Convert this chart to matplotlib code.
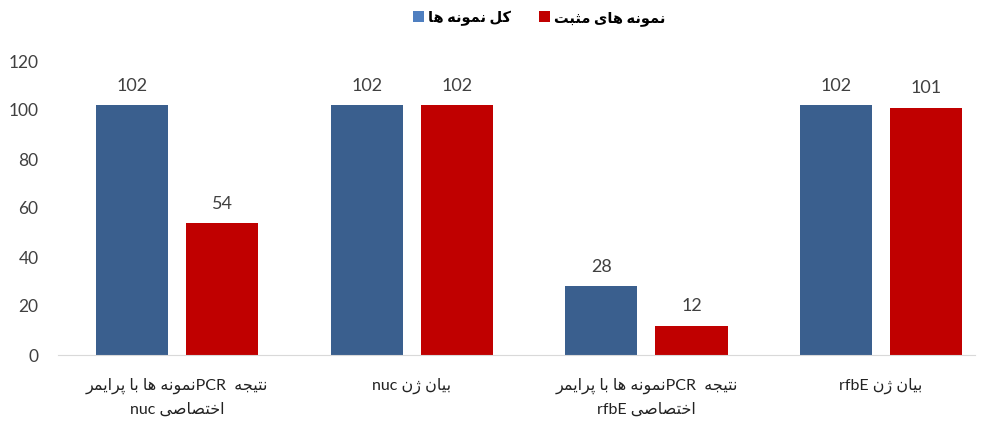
import matplotlib
matplotlib.use("Agg")
import matplotlib.pyplot as plt
from matplotlib.patches import Patch
import numpy as np

# ---------------- data ----------------
series_names = ["کل نمونه ها", "نمونه های مثبت"]
total_samples = [102, 102, 28, 102]
positive_samples = [54, 102, 12, 101]
y_ticks = [0, 20, 40, 60, 80, 100, 120]

# ------------- minimal Arabic/Persian shaping -------------
FORMS = {
    'ا': (0xFE8D, 0xFE8E, None, None),
    'ب': (0xFE8F, 0xFE90, 0xFE91, 0xFE92),
    'پ': (0xFB56, 0xFB57, 0xFB58, 0xFB59),
    'ت': (0xFE95, 0xFE96, 0xFE97, 0xFE98),
    'ث': (0xFE99, 0xFE9A, 0xFE9B, 0xFE9C),
    'ج': (0xFE9D, 0xFE9E, 0xFE9F, 0xFEA0),
    'خ': (0xFEA5, 0xFEA6, 0xFEA7, 0xFEA8),
    'ر': (0xFEAD, 0xFEAE, None, None),
    'ز': (0xFEAF, 0xFEB0, None, None),
    'ژ': (0xFB8A, 0xFB8B, None, None),
    'ص': (0xFEB9, 0xFEBA, 0xFEBB, 0xFEBC),
    'ک': (0xFB8E, 0xFB8F, 0xFB90, 0xFB91),
    'ل': (0xFEDD, 0xFEDE, 0xFEDF, 0xFEE0),
    'م': (0xFEE1, 0xFEE2, 0xFEE3, 0xFEE4),
    'ن': (0xFEE5, 0xFEE6, 0xFEE7, 0xFEE8),
    'ه': (0xFEE9, 0xFEEA, 0xFEEB, 0xFEEC),
    'و': (0xFEED, 0xFEEE, None, None),
    'ی': (0xFBFC, 0xFBFD, 0xFBFE, 0xFBFF),
}


def shape(word_text):
    out = []
    n = len(word_text)
    for i, ch in enumerate(word_text):
        f = FORMS.get(ch)
        if f is None:
            out.append(ch)
            continue
        prev = word_text[i - 1] if i > 0 else None
        nxt = word_text[i + 1] if i < n - 1 else None
        jp = prev in FORMS and FORMS[prev][2] is not None
        jn = nxt in FORMS and f[2] is not None
        if jp and jn:
            cp = f[3]
        elif jp:
            cp = f[1]
        elif jn:
            cp = f[2]
        else:
            cp = f[0]
        out.append(chr(cp))
    return "".join(out)


def rtl(text):
    return shape(text)[::-1]


categories = [
    rtl("نمونه ها با پرایمر") + "PCR  " + rtl("نتیجه") + "\n" + "nuc " + rtl("اختصاصی"),
    "nuc " + rtl("بیان ژن"),
    rtl("نمونه ها با پرایمر") + "PCR  " + rtl("نتیجه") + "\n" + "rfbE " + rtl("اختصاصی"),
    "rfbE " + rtl("بیان ژن"),
]

# ---------------- plot ----------------
BLUE = "#3A5F8E"
RED = "#C00000"
TXT = "#404040"
FAM = ["Lato", "DejaVu Sans"]

fig = plt.figure(figsize=(9.83, 4.24), dpi=100)
ax = fig.add_axes([58 / 983, 69 / 424, (975 - 58) / 983, (363 - 69) / 424])

x = np.arange(len(categories))
off = 0.192
w = 0.307
b1 = ax.bar(x - off, total_samples, w, color=BLUE)
b2 = ax.bar(x + off, positive_samples, w, color=RED)

for bars in (b1, b2):
    for r in bars:
        ax.annotate(f"{int(r.get_height())}", (r.get_x() + r.get_width() / 2, r.get_height()),
                    xytext=(0, 8), textcoords="offset points", ha="center", va="bottom",
                    fontsize=13, color=TXT, family=FAM)

ax.set_xlim(-0.507, 3.40)
ax.set_ylim(0, 120)
ax.set_yticks(y_ticks)
ax.set_yticklabels([str(v) for v in y_ticks], family=FAM, fontsize=12.5, color=TXT)
ax.set_xticks(x)
ax.set_xticklabels(categories, family=FAM, fontsize=11.5, color="#222222", linespacing=1.8)
ax.tick_params(axis="both", length=0)
ax.tick_params(axis="y", pad=14)
ax.tick_params(axis="x", pad=16)
for s in ("top", "right", "left"):
    ax.spines[s].set_visible(False)
ax.spines["bottom"].set_color("#D9D9D9")

handles = [Patch(facecolor="#4F7FC0"), Patch(facecolor=RED)]
fig.legend(handles, [rtl(s) for s in series_names], loc="center",
           bbox_to_anchor=(539 / 983, 1 - 18 / 424), ncol=2, frameon=False,
           handlelength=0.75, handleheight=0.75, handletextpad=0.3, columnspacing=1.9,
           prop={"family": FAM, "size": 10.5, "weight": "bold"})

fig.savefig("out.png", dpi=100)
